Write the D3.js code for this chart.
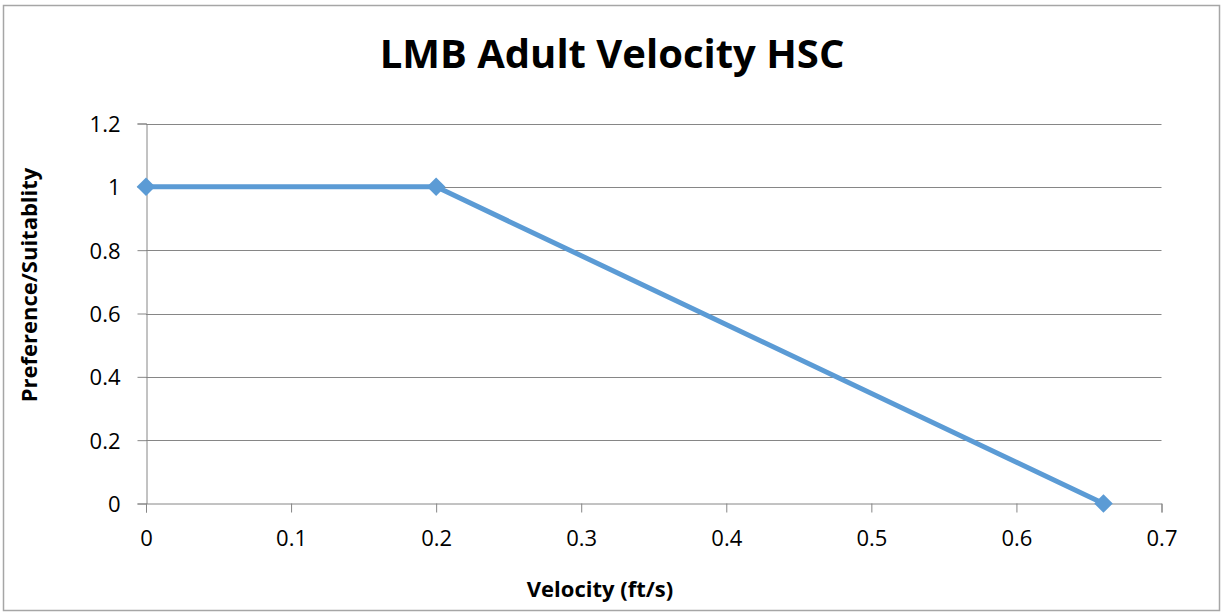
<!DOCTYPE html>
<html>
<head>
<meta charset="utf-8">
<script src="https://cdn.jsdelivr.net/npm/d3@7"></script>
<style>
  body { margin: 0; background: #fff; }
  text { font-family: "Open Sans", "Liberation Sans", sans-serif; fill: #000; }
</style>
</head>
<body>
<div class="chart"></div>
<script>
// data
var velocity = [0, 0.2, 0.66];
var suitability = [1, 1, 0];
var xTicks = [0, 0.1, 0.2, 0.3, 0.4, 0.5, 0.6, 0.7];
var yTicks = [0, 0.2, 0.4, 0.6, 0.8, 1, 1.2];

var W = 1225, H = 613;
var svg = d3.select("div.chart").append("svg")
            .attr("width", W).attr("height", H);

// outer border
svg.append("rect")
   .attr("x", 3.5).attr("y", 5.5)
   .attr("width", 1216).attr("height", 605)
   .attr("fill", "#fff").attr("stroke", "#a6a6a6").attr("stroke-width", 1.5);

var x = d3.scaleLinear().domain([0, 0.7]).range([146, 1161.5]);
var y = d3.scaleLinear().domain([0, 1.2]).range([503.5, 123.5]);

var fmt = function(d){ return d3.format("")(+d.toFixed(1)); };

// gridlines
svg.selectAll(".grid").data(yTicks.filter(function(d){ return d > 0; }))
   .enter().append("line")
   .attr("x1", x(0)).attr("x2", x(0.7))
   .attr("y1", function(d){ return Math.round(y(d)) + 0.5; })
   .attr("y2", function(d){ return Math.round(y(d)) + 0.5; })
   .attr("stroke", "#868686").attr("stroke-width", 1);

// y axis
var yAxis = svg.append("g").attr("transform", "translate(" + (x(0) + 0.5) + ",0)")
   .call(d3.axisLeft(y).tickValues(yTicks).tickSize(9).tickPadding(17).tickFormat(fmt));
yAxis.select(".domain").attr("stroke", "#868686");
yAxis.selectAll(".tick line").attr("stroke", "#868686");
yAxis.selectAll("text").style("font-size", "22px").attr("dy", "0.36em");

// x axis
var xAxis = svg.append("g").attr("transform", "translate(0," + y(0) + ")")
   .call(d3.axisBottom(x).tickValues(xTicks).tickSize(9).tickPadding(18).tickFormat(fmt));
xAxis.select(".domain").attr("stroke", "#868686");
xAxis.selectAll(".tick line").attr("stroke", "#868686");
xAxis.selectAll("text").style("font-size", "22px");

var pts = velocity.map(function(v, i){ return [v, suitability[i]]; });

// series line
svg.append("path")
   .datum(pts)
   .attr("d", d3.line().x(function(d){ return x(d[0]); }).y(function(d){ return y(d[1]); }))
   .attr("fill", "none").attr("stroke", "#5b9bd5").attr("stroke-width", 5)
   .attr("stroke-linejoin", "round");

// diamond markers
svg.selectAll(".marker").data(pts).enter().append("path")
   .attr("d", d3.symbol().type(d3.symbolDiamond2).size(220))
   .attr("transform", function(d){ return "translate(" + x(d[0]) + "," + y(d[1]) + ")"; })
   .attr("fill", "#5b9bd5");

// titles
svg.append("text").attr("x", 612).attr("y", 68)
   .attr("text-anchor", "middle").style("font-size", "40px").style("font-weight", "bold")
   .text("LMB Adult Velocity HSC");

svg.append("text").attr("x", 600).attr("y", 597)
   .attr("text-anchor", "middle").style("font-size", "22px").style("font-weight", "bold")
   .text("Velocity (ft/s)");

svg.append("text")
   .attr("transform", "translate(37,285) rotate(-90)")
   .attr("text-anchor", "middle").style("font-size", "22px").style("font-weight", "bold")
   .text("Preference/Suitablity");
</script>
</body>
</html>
